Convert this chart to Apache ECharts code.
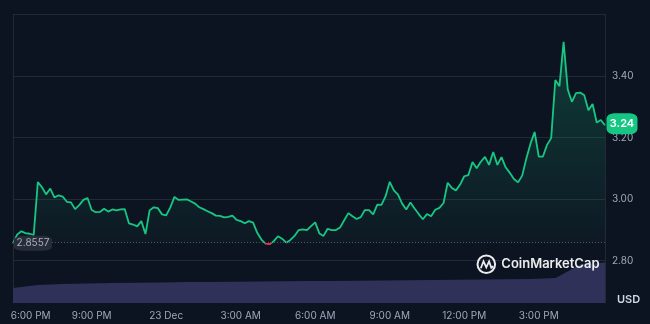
<!DOCTYPE html>
<html>
<head>
<meta charset="utf-8">
<script src="https://cdn.jsdelivr.net/npm/echarts@6/dist/echarts.min.js"></script>
<style>
html,body{margin:0;padding:0;background:#0d1421;}
#chart{width:650px;height:324px;}
</style>
</head>
<body>
<div id="chart"></div>
<script>
// Price, one point every 10 minutes starting 17:50
const startTime = '17:50';
const stepMinutes = 10;
const price = [
2.8557,2.884,2.895,2.889,2.887,2.883,3.055,3.038,3.015,3.034,
3.005,3.012,3.008,2.991,2.989,2.967,2.980,2.997,3.003,2.964,
2.957,2.958,2.968,2.959,2.966,2.963,2.966,2.967,2.921,2.917,
2.911,2.928,2.886,2.963,2.973,2.970,2.950,2.947,2.973,3.007,
2.997,2.998,2.999,2.992,2.985,2.973,2.967,2.960,2.954,2.946,
2.945,2.940,2.942,2.946,2.932,2.928,2.921,2.928,2.923,2.890,
2.868,2.855,2.853,2.863,2.879,2.871,2.858,2.867,2.880,2.899,
2.901,2.899,2.912,2.924,2.888,2.880,2.903,2.899,2.899,2.907,
2.931,2.954,2.944,2.935,2.941,2.964,2.964,2.950,2.982,2.981,
3.009,3.056,3.028,3.014,2.985,2.966,2.989,2.969,2.951,2.934,
2.951,2.944,2.965,2.971,2.987,3.053,3.036,3.028,3.047,3.074,
3.078,3.120,3.100,3.121,3.137,3.111,3.153,3.111,3.136,3.103,
3.085,3.065,3.054,3.076,3.132,3.180,3.218,3.138,3.138,3.176,
3.198,3.387,3.367,3.511,3.356,3.316,3.344,3.346,3.337,3.289,
3.309,3.249,3.257,3.240
];
// Volume, hourly (arbitrary units)
const volume = [15.6,18.7,19.8,20.3,20.8,21.1,21.3,21.8,21.8,22.2,22.4,22.6,22.9,22.9,23.1,23.4,23.6,23.9,24.2,24.4,24.6,25.0,26.0,40.0,42.1];
const openPrice = 2.8557;
const tickTimes = ['18:00','21:00','00:00','03:00','06:00','09:00','12:00','15:00'];
const tickLabels = ['6:00 PM','9:00 PM','23 Dec','3:00 AM','6:00 AM','9:00 AM','12:00 PM','3:00 PM'];
const yTicks = [2.8, 3.0, 3.2, 3.4];

function pad(n){return (n<10?'0':'')+n;}
const [sh, sm] = startTime.split(':').map(Number);
const categories = price.map((_, i) => {
  const t = (sh*60 + sm + i*stepMinutes) % 1440;
  return pad(Math.floor(t/60)) + ':' + pad(t%60);
});
const volCategories = volume.map((_, i) => String(i));

const GREEN = '#16c784', RED = '#ea3943', GRID = '#222a35', LABEL = '#a1a7bb';
const FONT = 'Inter';
const chart = echarts.init(document.getElementById('chart'));
chart.setOption({
  backgroundColor: '#0d1421',
  animation: false,
  textStyle: {fontFamily: FONT},
  grid: [
    {left: 13, width: 592, top: 14.5, height: 307.5},
    {left: 13, width: 592, top: 14.5, height: 288.5}
  ],
  xAxis: [
    {type: 'category', gridIndex: 0, data: categories, boundaryGap: false, show: false},
    {type: 'category', gridIndex: 1, data: categories, boundaryGap: false,
     axisLine: {show: false}, axisTick: {show: false}, splitLine: {show: false},
     axisLabel: {
       interval: (idx, val) => tickTimes.indexOf(val) >= 0,
       margin: 8, color: LABEL, fontSize: 10, fontFamily: FONT,
       formatter: (val) => {
         const k = tickTimes.indexOf(val);
         if (k === 0) return '{first|' + tickLabels[k] + '}';
         return k >= 0 ? tickLabels[k] : '';
       },
       rich: {first: {padding: [0, 0, 0, 27], color: LABEL, fontSize: 10, fontFamily: FONT}}
     }},
    {type: 'category', gridIndex: 1, data: volCategories, boundaryGap: false, show: false}
  ],
  yAxis: [
    {type: 'value', gridIndex: 0, position: 'right', min: 2.6, max: 3.6, interval: 0.2,
     axisLine: {show: false}, axisTick: {show: false},
     splitLine: {show: true, showMinLine: false, lineStyle: {color: GRID, width: 1}},
     axisLabel: {margin: 7, color: LABEL, fontSize: 10, fontFamily: FONT,
       formatter: (v) => yTicks.some(t => Math.abs(t - v) < 1e-6) ? v.toFixed(2) : ''}},
    {type: 'value', gridIndex: 1, position: 'left', min: 0, max: 300,
     axisLine: {show: true, lineStyle: {color: GRID}}, axisTick: {show: false},
     axisLabel: {show: false}, splitLine: {show: false}},
    {type: 'value', gridIndex: 1, position: 'right', min: 0, max: 1,
     axisLine: {show: true, lineStyle: {color: GRID}}, axisTick: {show: false},
     axisLabel: {show: false}, splitLine: {show: false}}
  ],
  visualMap: {
    show: false, type: 'piecewise', seriesIndex: 1, dimension: 1,
    pieces: [{gte: 0, lt: openPrice, color: RED}, {gte: openPrice, lte: 100, color: GREEN}],
    outOfRange: {color: GREEN}
  },
  series: [
    {type: 'line', name: 'Volume', xAxisIndex: 2, yAxisIndex: 1, data: volume,
     symbol: 'none', lineStyle: {width: 0}, areaStyle: {color: '#2f3158', opacity: 1}, z: 1, silent: true},
    {type: 'line', name: 'Price', xAxisIndex: 0, yAxisIndex: 0, data: price,
     symbol: 'none', lineStyle: {width: 1.8},
     areaStyle: {origin: openPrice, color: new echarts.graphic.LinearGradient(0, 0, 0, 1, [
       {offset: 0, color: 'rgba(22,199,132,0.32)'}, {offset: 1, color: 'rgba(22,199,132,0.04)'}])},
     markLine: {silent: true, symbol: 'none', label: {show: false},
       lineStyle: {type: [1, 2], color: '#4a5261', width: 1},
       data: [{yAxis: openPrice}]},
     markPoint: {silent: true, data: [
       {coord: [categories[0], openPrice], symbol: 'roundRect', symbolSize: [38, 15], symbolOffset: [20, 0],
        itemStyle: {color: '#272d38'},
        label: {show: true, position: 'inside', formatter: () => openPrice.toFixed(4), color: '#a9afbd', fontSize: 10, fontFamily: FONT}},
       {coord: [categories[categories.length - 1], price[price.length - 1]], symbol: 'roundRect', symbolSize: [31, 21], symbolOffset: [17, -1.5],
        itemStyle: {color: GREEN},
        label: {show: true, position: 'inside', formatter: () => price[price.length - 1].toFixed(2), color: '#ffffff', fontSize: 11, fontWeight: 600, fontFamily: FONT}}
     ]},
     z: 3}
  ],
  graphic: [
    {type: 'text', z: 100, left: 617, top: 294, style: {text: 'USD', fill: '#cfd6e4', font: '600 11px Inter'}},
    {type: 'group', z: 100, left: 475, top: 253, children: [
      {type: 'circle', z: 100, shape: {cx: 10, cy: 10, r: 8.8}, style: {fill: 'none', stroke: 'rgba(255,255,255,0.92)', lineWidth: 2}},
      {type: 'polyline', z: 100, shape: {points: [[4.5, 14], [7.2, 7], [10, 13], [12.8, 7], [15, 13.5], [17, 12]]},
       style: {fill: 'none', stroke: 'rgba(255,255,255,0.92)', lineWidth: 1.8}},
      {type: 'text', z: 100, x: 25, y: 10, style: {text: 'CoinMarketCap', fill: 'rgba(255,255,255,0.92)', font: '600 13px Inter', verticalAlign: 'middle'}}
    ]}
  ]
});
</script>
</body>
</html>
